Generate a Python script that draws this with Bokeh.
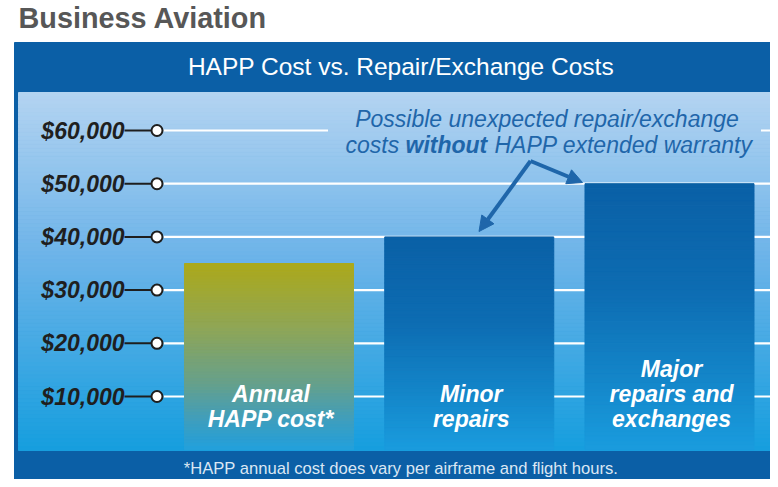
import numpy as np
from bokeh.plotting import figure
from bokeh.models import Range1d, Arrow, NormalHead
from bokeh.core.properties import value
from bokeh.embed import file_html
from bokeh.resources import INLINE

# ---------------- data ----------------
chart_title = "Business Aviation"
header_text = "HAPP Cost vs. Repair/Exchange Costs"
footnote = "*HAPP annual cost does vary per airframe and flight hours."
categories = ["Annual HAPP cost*", "Minor repairs", "Major repairs and exchanges"]
category_lines = [["Annual", "HAPP cost*"], ["Minor", "repairs"], ["Major", "repairs and", "exchanges"]]
costs = [35000, 40000, 50000]
tick_values = [10000, 20000, 30000, 40000, 50000, 60000]
tick_labels = ["$10,000", "$20,000", "$30,000", "$40,000", "$50,000", "$60,000"]
note_line1 = "Possible unexpected repair/exchange"
note_line2 = ["costs", "without", "HAPP extended warranty"]

# ---------------- layout helpers (screen px -> data) ----------------
W, H = 770, 479
X0, XSTEP = 268.5, 200.25      # screen x of first bar centre, px per category
Y0, YSCALE = 449.2, 0.00532    # screen y of $0, px per dollar


def sx(px):
    return (px - X0) / XSTEP


def sy(py):
    return (Y0 - py) / YSCALE


def lerp(stops, t):
    for (t0, c0), (t1, c1) in zip(stops[:-1], stops[1:]):
        if t <= t1:
            f = (t - t0) / (t1 - t0) if t1 > t0 else 0
            c = [int(round(a + (b - a) * f)) for a, b in zip(c0, c1)]
            return "#%02x%02x%02x" % tuple(c)
    return "#%02x%02x%02x" % tuple(stops[-1][1])


FONT = value("Liberation Sans")
DARK_BLUE = "#0b5fa6"

p = figure(width=W, height=H,
           x_range=Range1d(sx(0), sx(W)), y_range=Range1d(sy(H), sy(0)),
           output_backend="svg", toolbar_location=None,
           x_axis_location=None, y_axis_location=None,
           min_border_left=0, min_border_right=0, min_border_top=0, min_border_bottom=0,
           background_fill_color="white", border_fill_color="white",
           outline_line_color=None)
p.grid.visible = False

# dark blue frame
p.quad(left=sx(14), right=sx(W + 2), top=sy(42), bottom=sy(H + 2),
       fill_color=DARK_BLUE, line_color=DARK_BLUE)

# light gradient plot area
bg_stops = [(0.0, (180, 212, 241)), (0.45, (110, 180, 233)), (1.0, (22, 158, 222))]
N = 90
edges = np.linspace(sy(92), sy(450), N + 1)
bg_cols = [lerp(bg_stops, (k + 0.5) / N) for k in range(N)]
p.quad(left=sx(18), right=sx(W + 2), top=edges[:-1], bottom=edges[1:],
       fill_color=bg_cols, line_color=bg_cols, line_width=1)

# gridlines
p.segment(x0=sx(163), x1=sx(W + 2), y0=tick_values, y1=tick_values,
          line_color="white", line_width=2.2)

# clear the top gridline behind the note text (redraw the gradient there)
sel = [k for k in range(N) if sy(139) <= edges[k + 1] and edges[k] <= sy(121)]
p.quad(left=sx(328), right=sx(760), top=[edges[k] for k in sel],
       bottom=[edges[k + 1] for k in sel], fill_color=[bg_cols[k] for k in sel],
       line_color=[bg_cols[k] for k in sel], line_width=1)

# bars with gradient strips
green_stops = [(0.0, (172, 169, 26)), (0.35, (143, 166, 86)), (0.65, (102, 160, 140)),
               (0.85, (62, 158, 190)), (1.0, (34, 160, 220))]
blue_stops = [(0.0, (10, 96, 166)), (0.4, (13, 108, 178)), (0.75, (20, 135, 202)),
              (1.0, (26, 156, 222))]
K = 60
bx, btop, bbot, bcol = [], [], [], []
for i, v in enumerate(costs):
    stops = green_stops if i == 0 else blue_stops
    for k in range(K):
        bx.append(i)
        btop.append(v - v * k / K)
        bbot.append(v - v * (k + 1) / K)
        bcol.append(lerp(stops, (k + 0.5) / K))
p.vbar(x=bx, width=0.844, top=btop, bottom=bbot, fill_color=bcol, line_color=bcol, line_width=1)

# tick dashes, circles and labels
p.segment(x0=sx(124), x1=sx(151), y0=tick_values, y1=tick_values,
          line_color="#1e1e1e", line_width=2)
p.scatter(x=[sx(156.5)] * len(tick_values), y=tick_values, size=11,
          fill_color="white", line_color="#1e1e1e", line_width=2)
p.text(x=[sx(124)] * len(tick_values), y=tick_values, text=tick_labels,
       text_align="right", text_baseline="middle", text_font=FONT,
       text_font_style="bold italic", text_font_size="23px", text_color="#1f1f1f")

# bar labels (bottom line at fixed offset above $0)
lx, ly, lt, lo = [], [], [], []
for i, lines in enumerate(category_lines):
    n = len(lines)
    for j, line in enumerate(lines):
        lx.append(i + 0.01)
        ly.append(0)
        lt.append(line)
        lo.append(-(Y0 - 418) - 25 * (n - 1 - j))
p.text(x=lx, y=ly, text=lt, y_offset=lo, text_align="center", text_baseline="middle",
       text_font=FONT, text_font_style="bold italic", text_font_size="23px",
       text_color="white")

# title, header, footnote
p.text(x=[sx(18)], y=[sy(17.5)], text=[chart_title], text_align="left",
       text_baseline="middle", text_font=FONT, text_font_style="bold",
       text_font_size="28.8px", text_color="#575757")
p.text(x=[sx(400.5)], y=[sy(66)], text=[header_text], text_align="center",
       text_baseline="middle", text_font=FONT, text_font_size="24.5px",
       text_color="white")
p.text(x=[sx(400.5)], y=[sy(467.5)], text=[footnote], text_align="center",
       text_baseline="middle", text_font=FONT, text_font_size="16.6px",
       text_color="#dbe7f4")

# annotation text
NOTE_COL = "#1f66aa"
p.text(x=[sx(546.5)], y=[sy(118.5)], text=[note_line1], text_align="center",
       text_baseline="middle", text_font=FONT, text_font_style="italic",
       text_font_size="23px", text_color=NOTE_COL)
p.text(x=[sx(345), sx(405), sx(494)], y=[sy(144.5)] * 3, text=note_line2,
       text_align="left", text_baseline="middle", text_font=FONT,
       text_font_style=["italic", "bold italic", "italic"], text_font_size="23px",
       text_color=NOTE_COL)

# arrows from the note to the repair bars
apex_x, apex_y = sx(530), sy(160.5)
for tx, ty in [(sx(478.5), sy(231)), (sx(582), sy(182))]:
    p.add_layout(Arrow(x_start=apex_x, y_start=apex_y, x_end=tx, y_end=ty,
                       line_color=NOTE_COL, line_width=4,
                       end=NormalHead(size=15, fill_color=NOTE_COL, line_color=NOTE_COL)))

open("out.html", "w").write(file_html(p, INLINE))
